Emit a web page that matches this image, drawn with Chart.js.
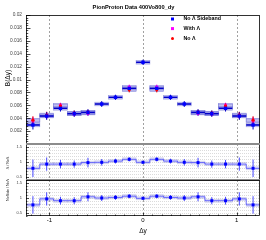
<!DOCTYPE html>
<html>
<head>
<meta charset="utf-8">
<script src="https://cdn.jsdelivr.net/npm/chart.js@4.4.0/dist/chart.umd.min.js"></script>
<style>
html, body { margin: 0; padding: 0; background: #fff; overflow: hidden; }
#wrap { position: relative; width: 266px; height: 240px; }
#wrap canvas { position: absolute; left: 0; top: 0; }
</style>
</head>
<body>
<div id="wrap">
	<canvas id="topPad" width="266" height="240"></canvas>
	<canvas id="midPad" width="266" height="240"></canvas>
	<canvas id="lowPad" width="266" height="240"></canvas>
</div>
<script>
// bins in delta y
var binCenters = [ -1.176, -1.029, -0.882, -0.735, -0.588, -0.441, -0.294, -0.147, 0, 0.147, 0.294, 0.441, 0.588, 0.735, 0.882, 1.029, 1.176 ];
var binHalf = 0.0735;

// B(dy) top pad
var noSideband    = [ 0.00295, 0.00434, 0.00553, 0.0047, 0.0049, 0.0062, 0.00724, 0.00863, 0.01267, 0.00863, 0.00724, 0.0062, 0.0049, 0.0047, 0.00553, 0.00434, 0.00295 ];
var noSidebandErr = [ 0.0007, 0.0006, 0.0005, 0.0005, 0.0005, 0.00045, 0.0004, 0.0004, 0.0004, 0.0004, 0.0004, 0.00045, 0.0005, 0.0005, 0.0005, 0.0006, 0.0007 ];
var withLambda    = [ 0.0036, 0.0044, 0.0060, 0.0047, 0.0048, null, null, 0.0088, null, 0.0088, null, null, 0.0048, 0.0047, 0.0060, 0.0044, 0.0036 ];
var withLambdaErr = [ 0.0006, 0.0005, 0.0004, 0.0004, 0.0004, null, null, 0.0004, null, 0.0004, null, null, 0.0004, 0.0004, 0.0004, 0.0005, 0.0006 ];
var noLambda      = [ 0.0037, 0.0045, 0.0059, 0.00476, 0.0049, null, null, 0.0084, null, 0.0084, null, null, 0.0049, 0.00476, 0.0059, 0.0045, 0.0037 ];
var noLambdaErr   = [ 0.0006, 0.0005, 0.0004, 0.0004, 0.0004, null, null, 0.0004, null, 0.0004, null, null, 0.0004, 0.0004, 0.0004, 0.0005, 0.0006 ];
var topSys = 0.00028;

// ratio pads
var lambdaRatio    = [ 0.79, 0.93, 0.93, 0.93, 0.98, 0.99, 1.03, 1.09, 0.99, 1.09, 1.03, 0.99, 0.98, 0.93, 0.93, 0.93, 0.79 ];
var lambdaRatioErr = [ 0.29, 0.22, 0.14, 0.12, 0.16, 0.11, 0.08, 0.07, 0.05, 0.07, 0.08, 0.11, 0.16, 0.12, 0.14, 0.22, 0.29 ];
var sideRatio      = [ 0.77, 0.97, 0.91, 0.91, 1.04, 1.00, 1.02, 1.06, 0.99, 1.06, 1.02, 1.00, 1.04, 0.91, 0.91, 0.97, 0.77 ];
var sideRatioErr   = [ 0.29, 0.22, 0.13, 0.12, 0.15, 0.10, 0.08, 0.07, 0.05, 0.07, 0.08, 0.10, 0.15, 0.12, 0.13, 0.22, 0.29 ];
var ratioSys = 0.05;

// ticks and labels
var topTicks   = [ 0.002, 0.004, 0.006, 0.008, 0.01, 0.012, 0.014, 0.016, 0.018, 0.02 ];
var ratioTicks = [ 0.5, 1, 1.5 ];
var ratioGrid  = [ 0.5, 0.6, 0.7, 0.8, 0.9, 1.0, 1.1, 1.2, 1.3, 1.4, 1.5 ];
var xTicks     = [ -1, 0, 1 ];
var legendLabels = [ "No \u039B Sideband", "With \u039B", "No \u039B" ];
var titleText = "PionProton Data 400Vo800_dy";

var FONT = "'Liberation Sans', Arial, sans-serif";

function points( vals, errs, sys ) {
	var out = [];
	for ( var i = 0; i < vals.length; i++ ) {
		if ( vals[i] === null ) { continue; }
		out.push( { x: binCenters[i], y: vals[i], e: errs[i], s: sys } );
	}
	return out;
}

function line( ctx, x1, y1, x2, y2 ) {
	ctx.beginPath();
	ctx.moveTo( x1, y1 );
	ctx.lineTo( x2, y2 );
	ctx.stroke();
}

// boxes, error bars, grid, frame - all placed through the chart scales
function padDecor( cfg ) {
	return {
		id: "padDecor",
		beforeDatasetsDraw: function( chart ) {
			var ctx = chart.ctx, a = chart.chartArea;
			var xs = chart.scales.x, ys = chart.scales.y;
			ctx.save();
			ctx.beginPath();
			ctx.rect( a.left, a.top, a.right - a.left, a.bottom - a.top );
			ctx.clip();

			// horizontal dashed grid (ratio pads)
			ctx.strokeStyle = "#c4c4c4";
			ctx.lineWidth = 0.6;
			ctx.setLineDash( [ 1, 1 ] );
			( cfg.hGrid || [] ).forEach( function( v ) {
				var py = Math.round( ys.getPixelForValue( v ) ) + 0.5;
				line( ctx, a.left, py, a.right, py );
			} );

			// vertical dashed lines at the x ticks
			ctx.strokeStyle = "#8a8a8a";
			ctx.lineWidth = 0.8;
			ctx.setLineDash( [ 2, 2 ] );
			xTicks.forEach( function( v ) {
				var px = Math.round( xs.getPixelForValue( v ) ) + 0.5;
				line( ctx, px, a.top, px, a.bottom );
			} );
			ctx.setLineDash( [] );

			var sets = chart.data.datasets.slice().reverse();

			// systematic boxes
			sets.forEach( function( ds ) {
				ds.data.forEach( function( p ) {
					if ( !p.s ) { return; }
					var xl = xs.getPixelForValue( p.x - binHalf ), xr = xs.getPixelForValue( p.x + binHalf );
					var yt = ys.getPixelForValue( p.y + p.s ), yb = ys.getPixelForValue( p.y - p.s );
					ctx.fillStyle = ds.boxFill;
					ctx.fillRect( xl, yt, xr - xl, yb - yt );
					ctx.strokeStyle = ds.boxLine;
					ctx.lineWidth = 0.6;
					ctx.strokeRect( xl, yt, xr - xl, yb - yt );
				} );
			} );

			// error bars
			sets.forEach( function( ds ) {
				ctx.strokeStyle = ds.barColor;
				if ( ds.step ) {
					ctx.lineWidth = 0.8;
					ctx.beginPath();
					ds.data.forEach( function( p, i ) {
						var xl = xs.getPixelForValue( p.x - binHalf ), xr = xs.getPixelForValue( p.x + binHalf );
						var py = ys.getPixelForValue( p.y );
						if ( i === 0 ) { ctx.moveTo( xl, py ); } else { ctx.lineTo( xl, py ); }
						ctx.lineTo( xr, py );
					} );
					ctx.stroke();
				}
				ds.data.forEach( function( p ) {
					var px = xs.getPixelForValue( p.x );
					var py = ys.getPixelForValue( p.y );
					if ( !ds.step && ds.barWidth ) {
						ctx.lineWidth = ds.barWidth;
						line( ctx, xs.getPixelForValue( p.x - binHalf ), py, xs.getPixelForValue( p.x + binHalf ), py );
					}
					ctx.lineWidth = 1;
					line( ctx, px, ys.getPixelForValue( p.y + p.e ), px, ys.getPixelForValue( p.y - p.e ) );
				} );
			} );
			ctx.restore();
		},
		afterDraw: function( chart ) {
			var ctx = chart.ctx, a = chart.chartArea;
			var ys = chart.scales.y, xs = chart.scales.x;
			ctx.save();

			// inner ticks on the left axis
			ctx.strokeStyle = "#000";
			ctx.lineWidth = 0.7;
			for ( var v = ys.min; v <= ys.max + 1e-9; v += cfg.minor ) {
				var py = Math.round( ys.getPixelForValue( v ) ) + 0.5;
				var major = Math.abs( v / cfg.major - Math.round( v / cfg.major ) ) < 1e-6;
				line( ctx, a.left, py, a.left + ( major ? cfg.tickLen : cfg.tickLen / 2 ), py );
			}
			if ( cfg.xAxis ) {
				for ( var t = -1.2; t <= 1.2 + 1e-9; t += 0.1 ) {
					var px = Math.round( xs.getPixelForValue( t ) ) + 0.5;
					var big = Math.abs( t - Math.round( t ) ) < 1e-6;
					line( ctx, px, a.bottom, px, a.bottom - ( big ? 3 : 1.5 ) );
				}
			}

			// frame
			ctx.strokeStyle = "#000";
			ctx.lineWidth = 0.8;
			ctx.strokeRect( Math.round( a.left ) + 0.5, Math.round( a.top ) + 0.5, Math.round( a.right - a.left ) - 1, Math.round( a.bottom - a.top ) - 1 );

			// pad separators
			if ( cfg.separators ) {
				ctx.strokeStyle = "#8c8c8c";
				ctx.lineWidth = 2;
				line( ctx, a.left, a.top, a.right, a.top );
				line( ctx, a.left, a.bottom, a.right, a.bottom );
			}

			// axis titles
			ctx.fillStyle = "#000";
			ctx.textAlign = "center";
			ctx.textBaseline = "middle";
			if ( cfg.yTitle ) {
				ctx.save();
				ctx.translate( cfg.yTitleX, cfg.yTitleY );
				ctx.rotate( -Math.PI / 2 );
				ctx.font = cfg.yTitleFont + "px " + FONT;
				ctx.fillText( cfg.yTitle, 0, 0 );
				ctx.restore();
			}
			if ( cfg.xTitle ) {
				ctx.font = "6.5px " + FONT;
				ctx.fillText( cfg.xTitle, xs.getPixelForValue( 0 ), 231 );
			}
			if ( cfg.title ) {
				ctx.font = "bold 5.7px " + FONT;
				ctx.fillText( titleText, 133.5, 7.5 );
			}
			if ( cfg.legend ) {
				var rows = [ 19, 28.6, 38.4 ];
				var cols = [ "rgb(0,0,255)", "rgb(255,0,255)", "rgb(255,0,0)" ];
				ctx.textAlign = "left";
				ctx.font = "bold 5.3px " + FONT;
				for ( var k = 0; k < 3; k++ ) {
					ctx.fillStyle = cols[k];
					if ( k === 2 ) {
						ctx.beginPath();
						ctx.arc( 172.5, rows[k], 1.5, 0, Math.PI * 2 );
						ctx.fill();
					} else {
						ctx.fillRect( 171, rows[k] - 1.5, 3, 3 );
					}
					ctx.fillStyle = "#000";
					ctx.fillText( legendLabels[k], 183.5, rows[k] );
				}
			}
			ctx.restore();
		}
	};
}

function fixedTicks( list ) {
	return function( scale ) {
		scale.ticks = list.map( function( v ) { return { value: v }; } );
	};
}

function baseScales( yMin, yMax, yList, yFont, showX ) {
	return {
		x: {
			type: "linear",
			min: -1.25,
			max: 1.25,
			afterBuildTicks: fixedTicks( xTicks ),
			afterFit: function( s ) { s.height = showX ? 24 : 0; },
			grid: { display: false, drawTicks: false },
			border: { display: false },
			ticks: {
				display: showX,
				padding: 1,
				color: "#000",
				font: { family: FONT, size: 6 },
				maxRotation: 0,
				autoSkip: false
			}
		},
		y: {
			type: "linear",
			min: yMin,
			max: yMax,
			afterBuildTicks: fixedTicks( yList ),
			afterFit: function( s ) { s.width = 26; },
			grid: { display: false, drawTicks: false },
			border: { display: false },
			ticks: {
				padding: 4,
				color: "#444",
				autoSkip: false,
				font: { family: FONT, size: yFont },
				callback: function( v ) { return String( Number( v.toFixed( 4 ) ) ); }
			}
		}
	};
}

function ratioSet( vals, errs ) {
	return {
		data: points( vals, errs, ratioSys ),
		pointStyle: "rect",
		pointRadius: 2.1,
		backgroundColor: "rgb(0,0,255)",
		borderWidth: 0,
		barColor: "rgb(70,70,255)",
		boxFill: "rgba(180,180,230,0.35)",
		boxLine: "rgba(160,160,220,0.5)",
		step: true
	};
}

var common = {
	responsive: false,
	animation: false,
	events: [],
	plugins: { legend: { display: false }, tooltip: { enabled: false } }
};

var boxFill = "rgba(165,165,235,0.45)";
var boxLine = "rgba(120,120,215,0.8)";

new Chart( document.getElementById( "topPad" ), {
	type: "scatter",
	data: {
		datasets: [ {
			data: points( noSideband, noSidebandErr, topSys ),
			pointStyle: "rect", pointRadius: 2.4, backgroundColor: "rgb(0,0,255)", borderWidth: 0,
			barColor: "rgb(0,0,200)", barWidth: 1.6,
			boxFill: boxFill, boxLine: boxLine
		}, {
			data: points( noLambda, noLambdaErr, topSys ),
			pointStyle: "circle", pointRadius: 1.6, backgroundColor: "rgb(255,0,0)", borderWidth: 0,
			barColor: "rgb(230,0,0)", barWidth: 0,
			boxFill: boxFill, boxLine: boxLine
		}, {
			data: points( withLambda, withLambdaErr, topSys ),
			pointStyle: "rect", pointRadius: 2.1, backgroundColor: "rgb(255,0,255)", borderWidth: 0,
			barColor: "rgb(230,0,230)", barWidth: 0,
			boxFill: boxFill, boxLine: boxLine
		} ]
	},
	options: Object.assign( {}, common, {
		layout: { padding: { left: 0, right: 6, top: 15, bottom: 96 } },
		scales: baseScales( 0, 0.02, topTicks, 4.8, false )
	} ),
	plugins: [ padDecor( {
		major: 0.002, minor: 0.0004, tickLen: 4.5,
		yTitle: "B(\u0394y)", yTitleX: 8.5, yTitleY: 78, yTitleFont: 6.5,
		title: true, legend: true
	} ) ]
} );

new Chart( document.getElementById( "midPad" ), {
	type: "scatter",
	data: { datasets: [ ratioSet( lambdaRatio, lambdaRatioErr ) ] },
	options: Object.assign( {}, common, {
		layout: { padding: { left: 0, right: 6, top: 144, bottom: 60 } },
		scales: baseScales( 0.4, 1.6, ratioTicks, 4, false )
	} ),
	plugins: [ padDecor( {
		hGrid: ratioGrid, major: 0.5, minor: 0.1, tickLen: 3,
		yTitle: "\u039B / No\u039B", yTitleX: 7.5, yTitleY: 163, yTitleFont: 3.6,
		separators: true
	} ) ]
} );

new Chart( document.getElementById( "lowPad" ), {
	type: "scatter",
	data: { datasets: [ ratioSet( sideRatio, sideRatioErr ) ] },
	options: Object.assign( {}, common, {
		layout: { padding: { left: 0, right: 6, top: 180, bottom: 0 } },
		scales: baseScales( 0.4, 1.6, ratioTicks, 4, true )
	} ),
	plugins: [ padDecor( {
		hGrid: ratioGrid, major: 0.5, minor: 0.1, tickLen: 3,
		yTitle: "NoSide / No\u039B", yTitleX: 7.5, yTitleY: 190, yTitleFont: 3.6,
		xAxis: true, xTitle: "\u0394y"
	} ) ]
} );
</script>
</body>
</html>
